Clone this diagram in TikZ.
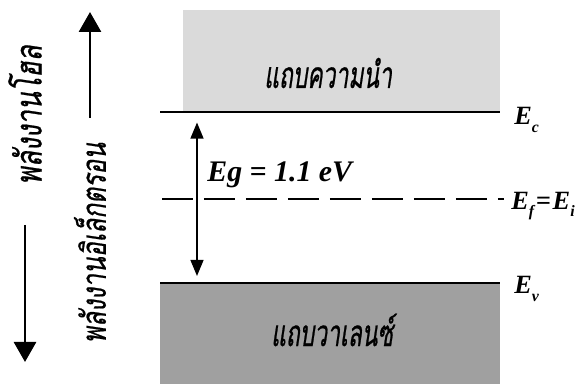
\documentclass[tikz,border=0pt]{standalone}
\usepackage{fontspec}
\setmainfont{Liberation Serif}
\newfontfamily\thaifont[Script=Thai,FakeSlant=0.15,FakeStretch=0.72,FakeBold=0.6]{Loma}
\newfontfamily\thaibandfont[Script=Thai,FakeSlant=0.15,FakeStretch=0.62,FakeBold=0.6]{Loma}
\usetikzlibrary{arrows.meta,positioning}
\definecolor{cbGray}{RGB}{218,218,218}
\definecolor{vbGray}{RGB}{160,160,160}
\newcommand{\lvsub}[2]{#1\raisebox{-0.6ex}{\small #2}}

\begin{document}
\begin{tikzpicture}[
    x=0.02cm, y=-0.02cm,
    thtext/.style={font=\thaifont\fontsize{21}{24}\selectfont},
    bandtext/.style={font=\thaibandfont\fontsize{21}{24}\selectfont},
    level/.style={line width=1.2pt},
    lvlabel/.style={font=\bfseries\itshape\fontsize{15}{18}\selectfont,anchor=west,inner sep=0pt},
    bigarrow/.style={line width=1.6pt,-{Triangle[length=4mm,width=4.4mm]}},
    >={Triangle[length=3.2mm,width=2.6mm]}
  ]
  \useasboundingbox (0,0) rectangle (582,384);
  % bands
  \fill[cbGray] (183,10) rectangle (500,112);
  \fill[vbGray] (160,283) rectangle (500,384);
  \node[bandtext] (cb) at (328,73) {แถบความนำ};
  \node[bandtext] (vb) at (332,330) {แถบวาเลนซ์};
  % levels
  \coordinate (ecL) at (160,112);
  \coordinate (ecR) at (500,112);
  \coordinate (evL) at (160,283);
  \coordinate (evR) at (500,283);
  \coordinate (efL) at (162,199);
  \coordinate (efR) at (504,199);
  \draw[level] (ecL) -- (ecR);
  \draw[level] (evL) -- (evR);
  \draw[level,dash pattern=on 0.62cm off 0.22cm] (efL) -- (efR);
  \node[lvlabel] (ec) at (514,120) {\lvsub{E}{c}};
  \node[lvlabel] (ev) at (514,289) {\lvsub{E}{v}};
  \node[lvlabel] (ef) at (511,206) {\lvsub{E}{f}\kern1pt=\kern1pt\lvsub{E}{i}};
  % band gap
  \coordinate (gapTop) at (197,112);
  \coordinate (gapBot) at (197,283);
  \draw[<->,line width=0.7pt,shorten <=6pt,shorten >=4pt] (gapTop) -- (gapBot);
  \node[font=\bfseries\itshape\fontsize{17}{20}\selectfont,anchor=west,inner sep=0pt] (eg) at (207,175) {Eg = 1.1 eV};
  % energy axes
  \node[thtext,rotate=90] (hole) at (25,115) {พลังงานโฮล};
  \coordinate (holeEnd) at (25,362);
  \draw[bigarrow] (25,225) -- (holeEnd);
  \node[thtext,rotate=90,font=\thaifont\fontsize{19.5}{24}\selectfont] (elec) at (90,243) {พลังงานอิเล็กตรอน};
  \coordinate (elecEnd) at (90,12);
  \draw[bigarrow] (90,118) -- (elecEnd);
\end{tikzpicture}
\end{document}
